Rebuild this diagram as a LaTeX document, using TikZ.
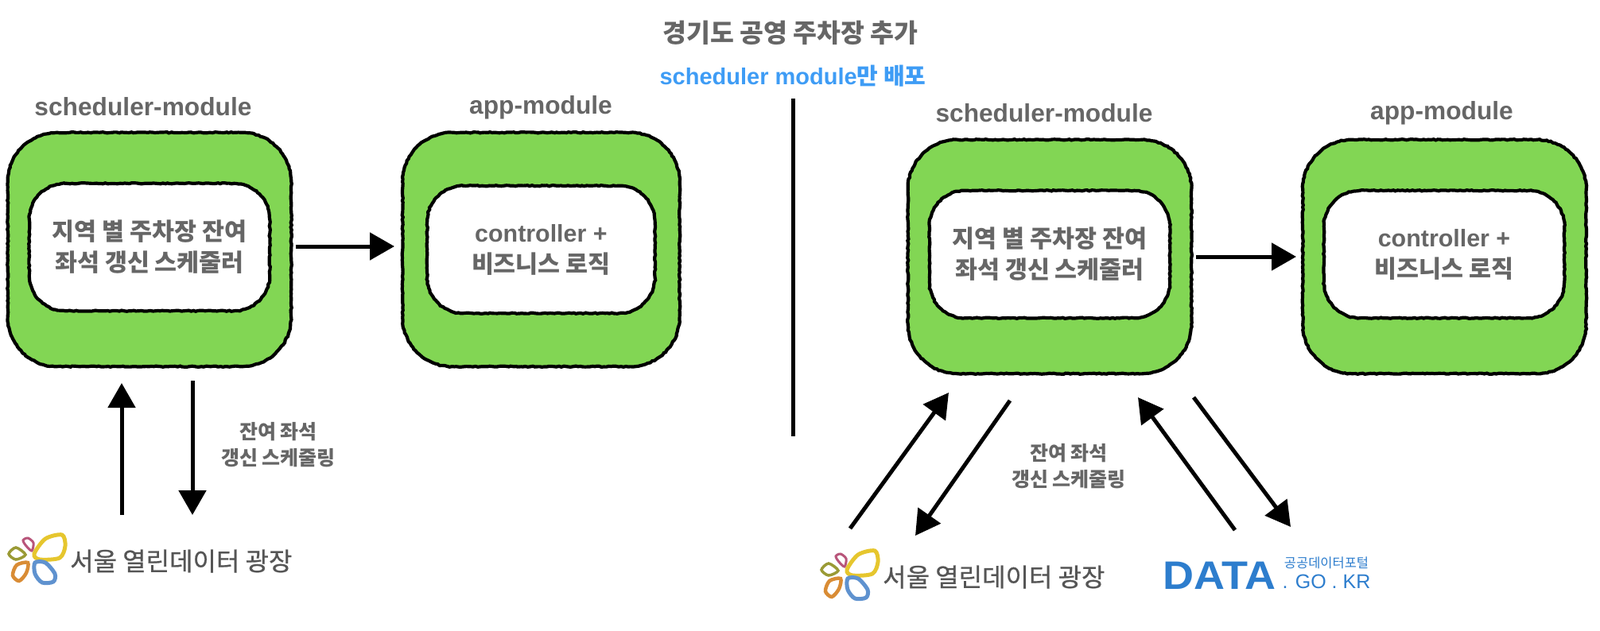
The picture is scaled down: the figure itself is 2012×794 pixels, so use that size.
\documentclass[tikz,border=0pt]{standalone}
\usepackage{fontspec}
\setmainfont{Liberation Sans}
\newfontfamily\krfont{Noto Sans CJK KR}
\newfontfamily\krlogofont[FakeBold=0.7]{Noto Sans CJK KR}
\newfontfamily\datafont[FakeStretch=1.08]{Liberation Sans}
\newcommand{\kr}[1]{{\krfont #1}}
\definecolor{modgreen}{RGB}{130, 214, 84}
\definecolor{txtgray}{RGB}{102, 102, 102}
\definecolor{deployblue}{RGB}{62, 156, 245}
\definecolor{logogray}{RGB}{85, 85, 85}
\definecolor{portalblue}{RGB}{45, 125, 205}
\definecolor{petalpink}{RGB}{184, 85, 122}
\definecolor{petalolive}{RGB}{154, 154, 53}
\definecolor{petalyellow}{RGB}{230, 198, 46}
\definecolor{petalorange}{RGB}{217, 140, 53}
\definecolor{petalblue}{RGB}{95, 146, 207}
\usetikzlibrary{arrows.meta, positioning, decorations.pathmorphing}
\newcommand{\sketchframe}[2]{%
  \draw[sketchy] {[rounded corners=#2] (#1.south west) rectangle (#1.north east)};}

\begin{document}
\begin{tikzpicture}[x=1pt, y=-1pt,
  sketchy/.style={draw=black, line width=4.2pt, decorate,
    decoration={random steps, segment length=3pt, amplitude=0.6pt}},
  outerbox/.style={fill=modgreen,
    rounded corners=62pt, minimum width=356pt, minimum height=294pt},
  innerbox/.style={fill=white,
    rounded corners=45pt, minimum width=302pt, minimum height=160pt,
    align=center, text=txtgray, font=\fontsize{30.4}{39}\selectfont\bfseries},
  modlabel/.style={text=txtgray, font=\fontsize{31.7}{34}\selectfont\bfseries},
  arrlabel/.style={align=center, text=txtgray, font=\fontsize{25}{33}\selectfont\bfseries},
  arr/.style={-{Triangle[length=31pt, width=34pt]}, line width=5pt, color=black},
  seoullogo/.pic={
    \draw[petalpink, line width=3pt] plot[smooth cycle] coordinates {(29,50) (35,47) (42,53) (40,63) (33,57)};
    \draw[petalolive, line width=3.5pt] plot[smooth cycle] coordinates {(11,67) (20,59) (32,68) (20,74)};
    \draw[petalyellow, line width=5pt] plot[smooth cycle] coordinates {(43,67) (57,48) (78,43) (82,57) (75,72) (50,74)};
    \draw[petalorange, line width=4.5pt] plot[smooth cycle] coordinates {(16,94) (21,81) (35,78) (33,91) (24,101)};
    \draw[petalblue, line width=5pt] plot[smooth cycle] coordinates {(44,78) (57,78) (69,92) (67,102) (53,103) (44,92)};
    \node[text=logogray, font=\fontsize{32}{36}\selectfont\krlogofont, anchor=west, inner sep=0pt] at (88,76) {서울 열린데이터 광장};
  }]
  \useasboundingbox (0,0) rectangle (2012,794);

  \node[text=txtgray, font=\fontsize{32.5}{38}\selectfont\krfont\bfseries] (title) at (994,41) {경기도 공영 주차장 추가};
  \node[text=deployblue, font=\fontsize{29}{34}\selectfont\bfseries] (deploy) at (997,96) {scheduler module\kr{만 배포}};

  % left side
  \node[outerbox] (sched) at (188,314) {};
  \sketchframe{sched}{62pt}
  \node[innerbox] (schedin) at (188,311) {\kr{지역 별 주차장 잔여}\\\kr{좌석 갱신 스케줄러}};
  \sketchframe{schedin}{45pt}
  \node[outerbox, minimum width=348pt, right=140pt of sched] (app) {};
  \sketchframe{app}{62pt}
  \node[innerbox, minimum width=286pt] (appin) at (app) {controller +\\\kr{비즈니스 로직}};
  \sketchframe{appin}{45pt}
  \node[modlabel] (schedlabel) at (180,134) {scheduler-module};
  \node[modlabel] (applabel) at (680,135) {app-module};

  % right side
  \node[outerbox] (schedr) at (1320,323) {};
  \sketchframe{schedr}{62pt}
  \node[innerbox] (schedrin) at (1320,320) {\kr{지역 별 주차장 잔여}\\\kr{좌석 갱신 스케줄러}};
  \sketchframe{schedrin}{45pt}
  \node[outerbox, right=140pt of schedr] (appr) {};
  \sketchframe{appr}{62pt}
  \node[innerbox] (apprin) at (1816,320) {controller +\\\kr{비즈니스 로직}};
  \sketchframe{apprin}{45pt}
  \node[modlabel] (schedrlabel) at (1313,142) {scheduler-module};
  \node[modlabel] (apprlabel) at (1813,142) {app-module};

  \coordinate (divtop) at (997,124);
  \coordinate (divbot) at (997,549);
  \draw[line width=5pt] (divtop) -- (divbot);

  \coordinate (upa) at (153,648);
  \coordinate (upb) at (153,482);
  \coordinate (downa) at (242,479);
  \coordinate (downb) at (242,648);
  \coordinate (ra) at (1069,665);
  \coordinate (rb) at (1193,494);
  \coordinate (rc) at (1270,504);
  \coordinate (rd) at (1151,674);
  \coordinate (re) at (1553,667);
  \coordinate (rf) at (1431,500);
  \coordinate (rg) at (1501,500);
  \coordinate (rh) at (1623,663);
  \coordinate (ls) at (372,310);
  \coordinate (le) at (496,310);
  \coordinate (rs) at (1504,323);
  \coordinate (rt) at (1630,323);

  \draw[arr] (ls) -- (le);
  \draw[arr] (rs) -- (rt);
  \draw[arr] (upa) -- (upb);
  \draw[arr] (downa) -- (downb);
  \draw[arr] (ra) -- (rb);
  \draw[arr] (rc) -- (rd);
  \draw[arr] (re) -- (rf);
  \draw[arr] (rg) -- (rh);

  \node[arrlabel] (renewl) at (350,560) {\kr{잔여 좌석}\\\kr{갱신 스케줄링}};
  \node[arrlabel] (renewr) at (1344,587) {\kr{잔여 좌석}\\\kr{갱신 스케줄링}};

  \pic at (0,630) {seoullogo};
  \pic at (1022,650) {seoullogo};

  \node[text=portalblue, font=\fontsize{50}{60}\selectfont\datafont\bfseries, inner sep=0pt] (data) at (1533,724) {DATA};
  \node[text=portalblue, font=\fontsize{16.5}{18}\selectfont\krfont, inner sep=0pt] (portal) at (1668,708) {공공데이터포털};
  \node[text=portalblue, font=\fontsize{25}{26}\selectfont, inner sep=0pt] (gokr) at (1668,732) {. GO . KR};
\end{tikzpicture}
\end{document}
